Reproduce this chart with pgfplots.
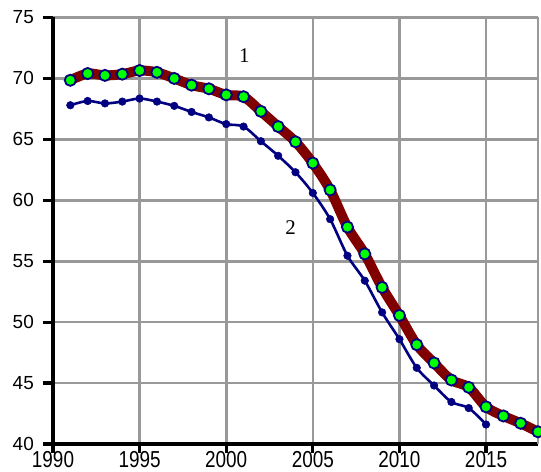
\documentclass[border=0pt]{standalone}
\usepackage{fontspec}
\setmainfont{Liberation Sans}
\newfontfamily\serifnum{Liberation Serif}
\usepackage{pgfplots}
\pgfplotsset{compat=1.18}
\definecolor{darkred}{HTML}{800000}
\definecolor{navyb}{HTML}{000080}
\definecolor{limeg}{HTML}{00FF00}
\definecolor{gridgray}{HTML}{999999}

\pgfplotstableread{
year val
1991 69.85
1992 70.40
1993 70.25
1994 70.35
1995 70.65
1996 70.50
1997 70.00
1998 69.45
1999 69.15
2000 68.65
2001 68.50
2002 67.30
2003 66.05
2004 64.80
2005 63.05
2006 60.85
2007 57.80
2008 55.60
2009 52.85
2010 50.55
2011 48.15
2012 46.65
2013 45.25
2014 44.65
2015 43.05
2016 42.30
2017 41.70
2018 41.00
}\seriesone

\pgfplotstableread{
year val
1991 67.80
1992 68.15
1993 67.95
1994 68.10
1995 68.35
1996 68.10
1997 67.75
1998 67.25
1999 66.80
2000 66.25
2001 66.05
2002 64.85
2003 63.65
2004 62.30
2005 60.60
2006 58.45
2007 55.45
2008 53.40
2009 50.80
2010 48.60
2011 46.25
2012 44.80
2013 43.45
2014 42.95
2015 41.60
}\seriestwo

\begin{document}
\begin{tikzpicture}
\begin{axis}[
    name=ax,
    scale only axis,
    width=485bp, height=426.5bp,
    xmin=1990, xmax=2018,
    ymin=40, ymax=75,
    xtick={1990,1995,...,2015},
    ytick={40,45,...,75},
    xmajorgrids, ymajorgrids,
    grid style={line width=2.6bp, gridgray},
    axis x line*=bottom,
    axis y line*=left,
    axis line style={-, line width=3.2bp, black},
    major tick length=0pt,
    clip=false,
    /pgf/number format/assume math mode=true,
    /pgf/number format/1000 sep={},
    tick label style={font=\fontsize{19}{22}\selectfont, inner sep=0pt},
    xticklabel style={anchor=north, yshift=-7.5bp, yscale=1.22},
    yticklabel style={anchor=east, xshift=-19bp},
]
\draw[gridgray, line width=2.6bp] (rel axis cs:1,0) -- (rel axis cs:1,1);
% outward tick marks
\pgfplotsinvokeforeach{0,1,2,3,4,5,6,7}{
  \draw[black, line width=3.2bp] ([xshift=-10bp]rel axis cs:0,#1/7) -- (rel axis cs:0,#1/7);
}
\pgfplotsinvokeforeach{0,5,10,15,20,25}{
  \draw[black, line width=3.2bp] ([yshift=-9bp]rel axis cs:#1/28,0) -- (rel axis cs:#1/28,0);
}
\node[fill=white, minimum width=42bp, minimum height=45bp, inner sep=0pt,
      font=\serifnum\fontsize{21}{24}\selectfont] at (axis cs:2003.72,57.8) {2};
\node[font=\serifnum\fontsize{21}{24}\selectfont] at (axis cs:2001.05,71.9) {1};
\addplot[navyb, line width=2.6bp, smooth, tension=0.5,
    mark=*, mark size=3.8bp, mark options={fill=navyb, draw=navyb, line width=0.5bp}]
    table[x=year, y=val] {\seriestwo};
\addplot[darkred, line width=10bp, smooth, tension=0.5,
    mark=*, mark size=5.6bp, mark options={fill=limeg, draw=navyb, line width=1.8bp}]
    table[x=year, y=val] {\seriesone};
\end{axis}
\pgfresetboundingbox
\path[use as bounding box] ([shift={(-53bp,-28bp)}]ax.south west) rectangle ([shift={(3bp,17.5bp)}]ax.north east);
\end{tikzpicture}
\end{document}
